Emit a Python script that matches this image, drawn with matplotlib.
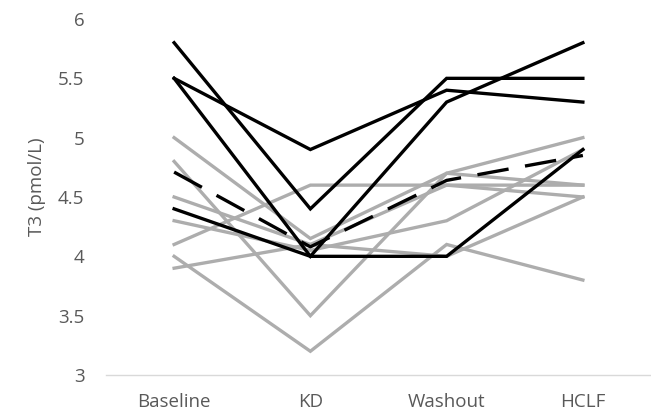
import numpy as np
import matplotlib.pyplot as plt

# =====================================================
# DATA
# =====================================================
phases = ["Baseline", "KD", "Washout", "HCLF"]

# grey: individual subjects
grey_1 = [5.0, 4.15, 4.7, 5.0]
grey_2 = [4.8, 3.5, 4.7, 4.6]
grey_3 = [4.5, 4.1, 4.6, 4.5]
grey_4 = [4.3, 4.05, 4.3, 4.9]
grey_5 = [4.1, 4.6, 4.6, 4.6]
grey_6 = [4.0, 3.2, 4.1, 3.8]
grey_7 = [3.9, 4.1, 4.0, 4.5]

# black: individual subjects
black_1 = [5.8, 4.4, 5.5, 5.5]
black_2 = [5.5, 4.9, 5.4, 5.3]
black_3 = [5.5, 4.0, 5.3, 5.8]
black_4 = [4.4, 4.0, 4.0, 4.9]

# dashed: group mean
mean_line = [4.71, 4.08, 4.64, 4.85]

grey_lines = [grey_1, grey_2, grey_3, grey_4, grey_5, grey_6, grey_7]
black_lines = [black_1, black_2, black_3, black_4]

# =====================================================
# PLOT
# =====================================================
plt.rcParams['font.family'] = ['Open Sans', 'DejaVu Sans']
text_col = "#595959"

fig = plt.figure(figsize=(6.51, 4.15), dpi=100)
ax = fig.add_axes([106 / 651, 40 / 415, 545 / 651, 356 / 415])

x = np.arange(len(phases))
for vals in grey_lines:
    ax.plot(x, vals, color="#adadad", lw=2.4, solid_joinstyle="miter")
for vals in black_lines:
    ax.plot(x, vals, color="black", lw=2.4, solid_joinstyle="miter")
ax.plot(x, mean_line, color="black", lw=2.4, dashes=(9.5, 5))

ax.set_xlim(-0.5, len(phases) - 0.5)
ax.set_ylim(3, 6)
ax.set_yticks(np.arange(3, 6.01, 0.5))
ax.set_yticklabels(["3", "3.5", "4", "4.5", "5", "5.5", "6"])
ax.set_xticks(x)
ax.set_xticklabels(phases)

for side in ["left", "right", "top"]:
    ax.spines[side].set_visible(False)
ax.spines["bottom"].set_color("#d9d9d9")
ax.spines["bottom"].set_linewidth(1.0)
ax.spines["bottom"].set_zorder(0)

ax.tick_params(axis="both", length=0, labelsize=13.5, colors=text_col)
ax.tick_params(axis="x", pad=13)
ax.tick_params(axis="y", pad=15.5)

ax.set_ylabel("T3 (pmol/L)", fontsize=13.5, color=text_col)
ax.yaxis.set_label_coords(-0.11, 0.53)

fig.savefig("out.png", dpi=100)
